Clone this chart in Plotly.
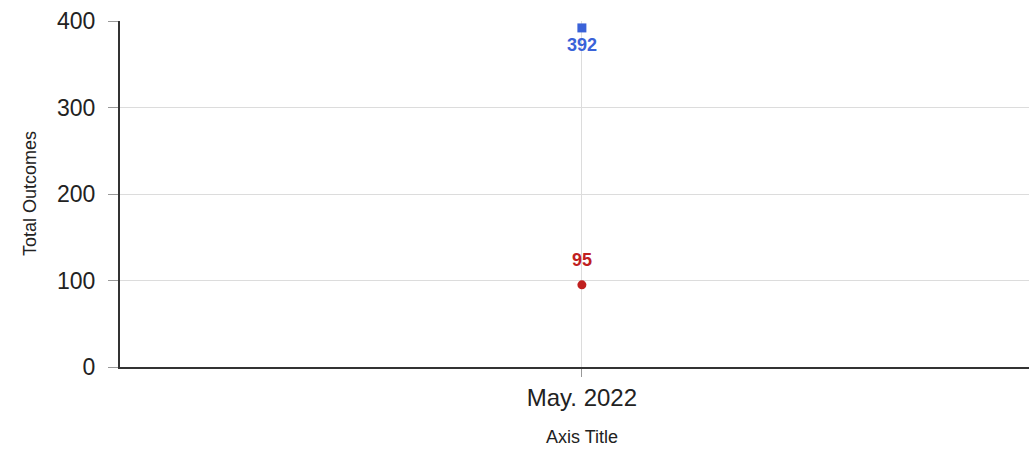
import plotly.graph_objects as go

categories = ["May. 2022"]
series_a_name = "Series A"
series_a = [392]
series_b_name = "Series B"
series_b = [95]
y_ticks = [0, 100, 200, 300, 400]
x_title = "Axis Title"
y_title = "Total Outcomes"

font_family = "Liberation Sans, Arial, sans-serif"
blue = "#3a62d8"
red = "#c0201f"

fig = go.Figure()
fig.add_trace(go.Scatter(
    x=categories, y=series_a, name=series_a_name, mode="markers",
    marker=dict(symbol="square", size=9, color=blue),
    cliponaxis=False,
))
fig.add_trace(go.Scatter(
    x=categories, y=series_b, name=series_b_name, mode="markers",
    marker=dict(symbol="circle", size=9, color=red),
    cliponaxis=False,
))

annotations = []
for c, v in zip(categories, series_a):
    annotations.append(dict(x=c, y=v, xref="x", yref="y", text=f"<b>{v}</b>",
                            showarrow=False, yshift=-17, yanchor="middle",
                            font=dict(family=font_family, size=18, color=blue)))
for c, v in zip(categories, series_b):
    annotations.append(dict(x=c, y=v, xref="x", yref="y", text=f"<b>{v}</b>",
                            showarrow=False, yshift=25, yanchor="middle",
                            font=dict(family=font_family, size=18, color=red)))
annotations.append(dict(x=categories[0], y=0, xref="x", yref="paper", text=x_title,
                        showarrow=False, yshift=-70, yanchor="middle",
                        font=dict(family=font_family, size=18, color="#222")))
annotations.append(dict(x=0, y=0.5, xref="paper", yref="paper", text=y_title,
                        showarrow=False, xshift=-90, xanchor="center", yanchor="middle",
                        textangle=-90,
                        font=dict(family=font_family, size=18, color="#222")))

fig.update_layout(
    width=1029, height=451,
    margin=dict(l=120, r=0, t=21, b=84, autoexpand=False),
    paper_bgcolor="white", plot_bgcolor="white",
    showlegend=False,
    font=dict(family=font_family, color="#222"),
    annotations=annotations,
    xaxis=dict(
        type="category", range=[-0.5, 0.484], automargin=False,
        showgrid=True, gridcolor="#dcdcdc", gridwidth=1,
        showline=True, linecolor="#333", linewidth=2,
        ticks="outside", ticklen=8, tickcolor="#999",
        tickfont=dict(size=24, color="#222"),
        ticklabelstandoff=0,
    ),
    yaxis=dict(
        range=[0, 400], tickvals=y_ticks, automargin=False,
        showgrid=True, gridcolor="#dcdcdc", gridwidth=1,
        showline=True, linecolor="#333", linewidth=2,
        ticks="outside", ticklen=10, tickcolor="#999",
        tickfont=dict(size=23, color="#222"),
        ticklabelstandoff=8,
        zeroline=False,
    ),
)

fig.write_html(
    "out.html",
    config={"displayModeBar": False},
    post_script="document.body.style.margin='0';document.body.style.overflow='hidden';",
)
